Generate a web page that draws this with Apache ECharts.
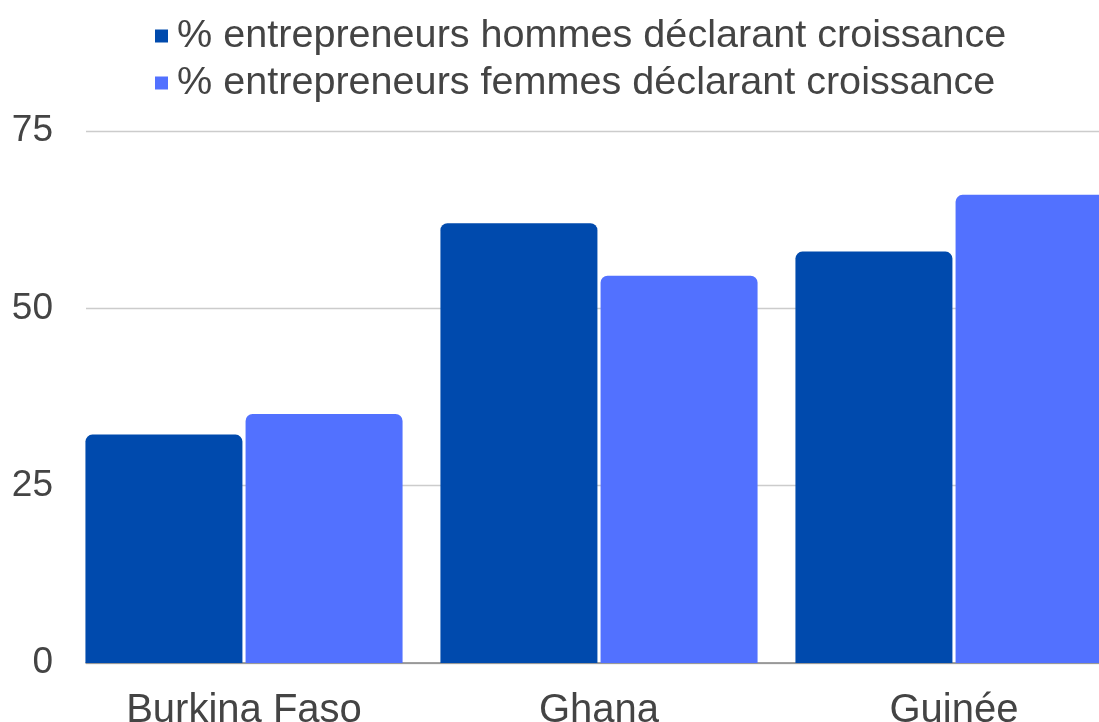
<!DOCTYPE html>
<html>
<head>
<meta charset="utf-8">
<script src="https://cdn.jsdelivr.net/npm/echarts@6/dist/echarts.min.js"></script>
<style>html,body{margin:0;padding:0;background:#fff;}#c{width:1099px;height:722px;}</style>
</head>
<body>
<div id="c"></div>
<script>
var categories = ['Burkina Faso', 'Ghana', 'Guinée'];
var hommes = [32.2, 62.0, 58.0];
var femmes = [35.1, 54.6, 66.0];
var seriesNames = ['% entrepreneurs hommes déclarant croissance', '% entrepreneurs femmes déclarant croissance'];
var yTicks = [0, 25, 50, 75];

var chart = echarts.init(document.getElementById('c'));
var font = 'Liberation Sans, Arial, sans-serif';
chart.setOption({
  animation: false,
  textStyle: { fontFamily: font },
  legend: {
    orient: 'vertical',
    left: 150,
    top: 11,
    itemWidth: 13,
    itemHeight: 13,
    itemGap: 7,
    icon: 'rect',
    textStyle: { fontSize: 39.6, color: '#444', fontFamily: font, padding: [0, 0, 0, 4] },
    data: seriesNames
  },
  grid: [
    { left: 86, right: 0, top: 131, bottom: 59, outerBoundsMode: 'none', containLabel: false },
    { left: 66.5, width: 1065, top: 131, bottom: 59, outerBoundsMode: 'none', containLabel: false }
  ],
  xAxis: [
    { type: 'category', gridIndex: 0, data: categories,
      axisLine: { lineStyle: { color: '#888', width: 1.5 } },
      axisTick: { show: false }, axisLabel: { show: false } },
    { type: 'category', gridIndex: 1, data: categories,
      axisLine: { show: false }, axisTick: { show: false },
      axisLabel: { fontSize: 40, color: '#444', margin: 28, fontFamily: font } }
  ],
  yAxis: [
    { type: 'value', gridIndex: 0, min: yTicks[0], max: yTicks[yTicks.length - 1], interval: 25,
      axisLine: { show: false }, axisTick: { show: false },
      axisLabel: { fontSize: 37, color: '#444', margin: 33, fontFamily: font },
      splitLine: { lineStyle: { color: '#cccccc', width: 1.3 } } },
    { type: 'value', gridIndex: 1, min: yTicks[0], max: yTicks[yTicks.length - 1], interval: 25,
      axisLine: { show: false }, axisTick: { show: false }, axisLabel: { show: false },
      splitLine: { show: false } }
  ],
  series: [
    { name: seriesNames[0], type: 'bar', xAxisIndex: 1, yAxisIndex: 1, data: hommes,
      barWidth: 157, barGap: '2%', z: 3,
      itemStyle: { color: '#004AAD', borderRadius: [7, 7, 0, 0] } },
    { name: seriesNames[1], type: 'bar', xAxisIndex: 1, yAxisIndex: 1, data: femmes,
      barWidth: 157, barGap: '2%', z: 3,
      itemStyle: { color: '#5271FF', borderRadius: [7, 7, 0, 0] } }
  ]
});
</script>
</body>
</html>
